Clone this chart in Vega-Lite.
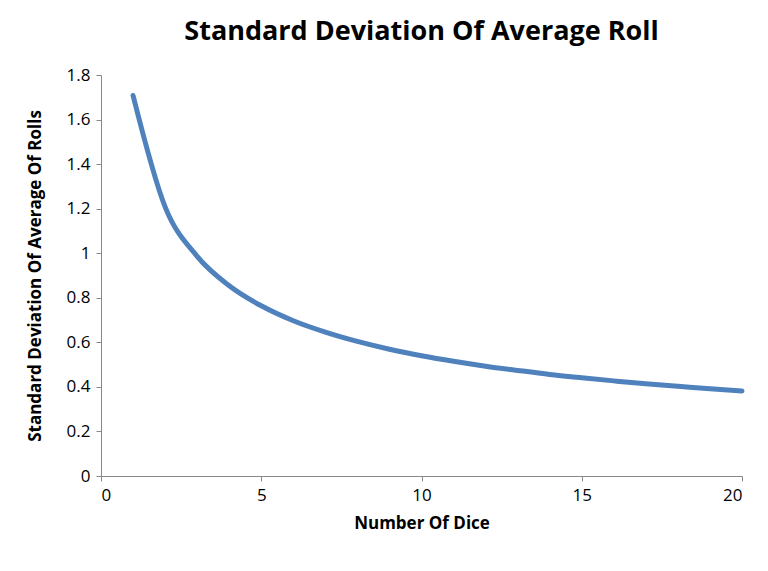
{
  "$schema": "https://vega.github.io/schema/vega-lite/v6.json",
  "width": 641,
  "height": 401,
  "autosize": "none",
  "padding": {"left": 101, "top": 75, "right": 26, "bottom": 95},
  "background": "white",
  "title": {"text": "Standard Deviation Of Average Roll", "fontSize": 27, "font": "Open Sans", "fontWeight": "bold", "color": "black", "offset": 20},
  "config": {"view": {"stroke": null}},
  "data": {"values": [
    {"n": 1, "sd": 1.708}, {"n": 2, "sd": 1.208}, {"n": 3, "sd": 0.986}, {"n": 4, "sd": 0.854},
    {"n": 5, "sd": 0.764}, {"n": 6, "sd": 0.697}, {"n": 7, "sd": 0.646}, {"n": 8, "sd": 0.604},
    {"n": 9, "sd": 0.569}, {"n": 10, "sd": 0.540}, {"n": 11, "sd": 0.515}, {"n": 12, "sd": 0.493},
    {"n": 13, "sd": 0.474}, {"n": 14, "sd": 0.456}, {"n": 15, "sd": 0.441}, {"n": 16, "sd": 0.427},
    {"n": 17, "sd": 0.414}, {"n": 18, "sd": 0.403}, {"n": 19, "sd": 0.392}, {"n": 20, "sd": 0.382}
  ]},
  "mark": {"type": "line", "interpolate": "monotone", "color": "#4f81bd", "strokeWidth": 5, "strokeCap": "round"},
  "encoding": {
    "x": {"field": "n", "type": "quantitative", "title": "Number Of Dice",
      "scale": {"domain": [0, 20], "nice": false},
      "axis": {"values": [0, 5, 10, 15, 20], "grid": false, "domainColor": "#888", "tickColor": "#888", "tickSize": 5,
        "labelFontSize": 17, "labelFont": "Open Sans", "labelColor": "black", "labelPadding": 6,
        "titleFontSize": 17, "titleFont": "Open Sans", "titleFontWeight": "bold", "titleColor": "black", "titlePadding": 12}},
    "y": {"field": "sd", "type": "quantitative", "title": "Standard Deviation Of Average Of Rolls",
      "scale": {"domain": [0, 1.8], "nice": false},
      "axis": {"values": [0, 0.2, 0.4, 0.6, 0.8, 1, 1.2, 1.4, 1.6, 1.8], "format": "~g", "grid": false, "domainColor": "#888", "tickColor": "#888", "tickSize": 5,
        "labelFontSize": 17, "labelFont": "Open Sans", "labelColor": "black", "labelPadding": 6,
        "titleFontSize": 17, "titleFont": "Open Sans", "titleFontWeight": "bold", "titleColor": "black", "titlePadding": 22}}
  }
}
